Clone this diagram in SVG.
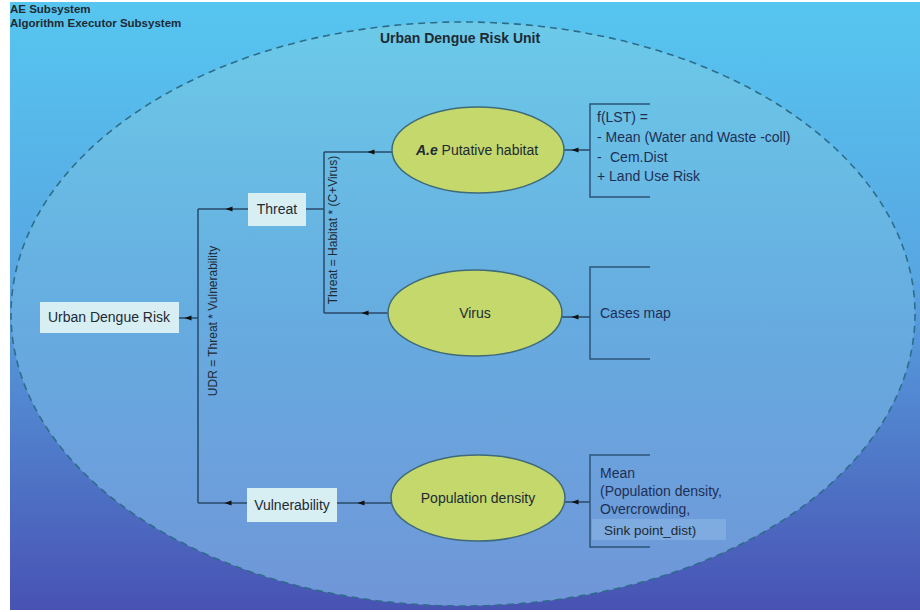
<svg xmlns="http://www.w3.org/2000/svg" width="920" height="612" viewBox="0 0 920 612">
<defs>
<linearGradient id="bg" x1="0" y1="0" x2="0" y2="1">
<stop offset="0" stop-color="#56c6f0"/>
<stop offset="0.45" stop-color="#58a6e2"/>
<stop offset="1" stop-color="#4852b3"/>
</linearGradient>
<linearGradient id="inner" x1="0" y1="0" x2="0" y2="1">
<stop offset="0" stop-color="#6ccae8"/>
<stop offset="0.5" stop-color="#66ace0"/>
<stop offset="1" stop-color="#7096d8"/>
</linearGradient>
<marker id="arr" viewBox="0 0 10 10" refX="5" refY="5" markerWidth="9" markerHeight="7" markerUnits="userSpaceOnUse" orient="auto">
<path d="M10,5 L0,1.5 L0,8.5 Z" fill="#111"/>
</marker>
<style>
.t{font-family:"Liberation Sans",Arial,sans-serif;fill:#1e2a34}
.b{font-weight:bold}
.box{fill:#d7eef3;stroke:none}
.ell{fill:#c4d86c;stroke:#3f6a78;stroke-width:1.5}
.ln{fill:none;stroke:#284a68;stroke-width:1.5}
.arw{fill:none;stroke:#284a68;stroke-width:1.5;marker-mid:url(#arr)}
.br{fill:none;stroke:#2c5478;stroke-width:1.5}
.nv{font-family:"Liberation Sans",Arial,sans-serif;fill:#1e2f55;font-size:14px}
</style>
</defs>
<rect x="0" y="0" width="920" height="612" fill="#ffffff"/>
<rect x="10" y="2" width="910" height="608" fill="url(#bg)"/>
<ellipse id="unit" cx="463" cy="314" rx="452" ry="292" fill="url(#inner)" stroke="#2d6d8a" stroke-width="1.6" stroke-dasharray="7 5"/>
<text class="t b" x="10" y="13" font-size="11.5">AE Subsystem</text>
<text class="t b" x="10" y="27" font-size="11.5">Algorithm Executor Subsystem</text>
<text class="t b" x="460" y="43" font-size="14" text-anchor="middle">Urban Dengue Risk Unit</text>

<g id="connectors">
<path class="arw" d="M590,150 L575,150 L564,150"/>
<path class="arw" d="M590,317 L575,317 L562,317"/>
<path class="arw" d="M590,502 L575,502 L565,502"/>
<path class="arw" d="M392,152 L371,152 L324,152"/>
<path class="ln" d="M324,152 L324,313"/>
<path class="arw" d="M388,313 L365,313 L324,313"/>
<path class="ln" d="M306,209 L324,209"/>
<path class="arw" d="M248,209 L229,209 L198,209"/>
<path class="ln" d="M198,209 L198,503"/>
<path class="arw" d="M247,503 L228,503 L198,503"/>
<path class="arw" d="M391,503 L361,503 L337,503"/>
<path class="arw" d="M198,318 L188,318 L179,318"/>
<path class="br" d="M650,104 L590,104 L590,197 L650,197"/>
<path class="br" d="M650,267 L590,267 L590,359 L650,359"/>
<path class="br" d="M650,455 L590,455 L590,547 L650,547"/>
<text class="t" font-size="12" transform="translate(337,230) rotate(-90)" text-anchor="middle">Threat = Habitat * (C+Virus)</text>
<text class="t" font-size="12" transform="translate(217,321) rotate(-90)" text-anchor="middle">UDR = Threat * Vulnerability</text>
</g>

<g id="habitat">
<ellipse class="ell" cx="478" cy="150" rx="86" ry="43"/>
<text class="t" x="477" y="155" font-size="14" text-anchor="middle"><tspan font-weight="bold" font-style="italic">A.e</tspan> Putative habitat</text>
</g>
<g id="virus">
<ellipse class="ell" cx="475" cy="313" rx="87" ry="43"/>
<text class="t" x="475" y="318" font-size="14" text-anchor="middle">Virus</text>
</g>
<g id="population">
<ellipse class="ell" cx="478" cy="498" rx="87" ry="43"/>
<text class="t" x="478" y="503" font-size="14" text-anchor="middle">Population density</text>
</g>

<g id="habitat-inputs">
<text class="nv" x="597" y="122">f(LST) =</text>
<text class="nv" x="597" y="142">- Mean (Water and Waste -coll)</text>
<text class="nv" x="597" y="162">-</text>
<text class="nv" x="610" y="162">Cem.Dist</text>
<text class="nv" x="597" y="181">+ Land Use Risk</text>
</g>
<g id="virus-inputs">
<text class="nv" x="600" y="318">Cases map</text>
</g>
<g id="population-inputs">
<text class="nv" x="600" y="478">Mean</text>
<text class="nv" x="600" y="496">(Population density,</text>
<text class="nv" x="600" y="514">Overcrowding,</text>
<rect x="592" y="519" width="134" height="21" fill="#8bb6e4" opacity="0.6"/>
<text class="t" x="604" y="535" font-size="13.5">Sink point_dist)</text>
</g>

<g id="threat">
<rect class="box" x="248" y="193" width="58" height="33"/>
<text class="t" x="277" y="214" font-size="14" text-anchor="middle">Threat</text>
</g>
<g id="vulnerability">
<rect class="box" x="247" y="488" width="90" height="34"/>
<text class="t" x="292" y="510" font-size="14" text-anchor="middle">Vulnerability</text>
</g>
<g id="udr">
<rect class="box" x="40" y="302" width="139" height="31"/>
<text class="t" x="109" y="322" font-size="14" text-anchor="middle">Urban Dengue Risk</text>
</g>
</svg>
